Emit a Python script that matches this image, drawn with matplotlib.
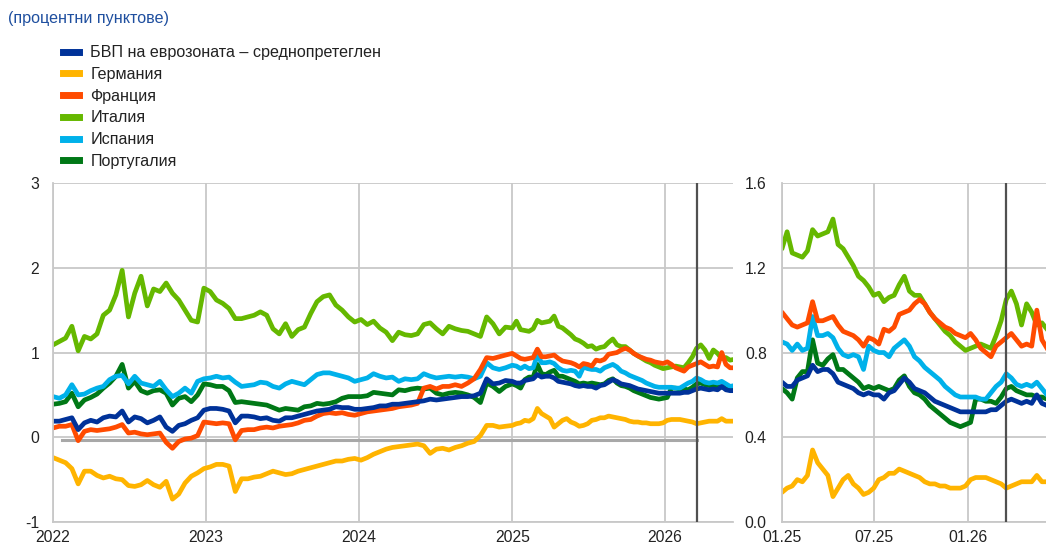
import pandas as pd
import matplotlib.pyplot as plt
from matplotlib.lines import Line2D

plt.rcParams['font.family'] = ['Liberation Sans', 'DejaVu Sans']

# Sample dates: every 15 days for 2022-2024, every 10 days from 2025 on
dates = pd.date_range('2022-01-01', periods=73, freq='15D').append(
    pd.date_range('2025-01-01', periods=54, freq='10D'))

labels = ['БВП на еврозоната – среднопретеглен', 'Германия', 'Франция',
          'Италия', 'Испания', 'Португалия']
colors = ['#003299', '#ffb400', '#ff4b00', '#65b800', '#00b1ea', '#007816']

# Spreads vs. risk-free curve (percentage points)
euro_area = [0.19, 0.19, 0.21, 0.23, 0.09, 0.17, 0.20, 0.18, 0.23, 0.25, 0.24, 0.31, 0.18, 0.24, 0.22,
             0.17, 0.20, 0.24, 0.12, 0.07, 0.14, 0.16, 0.20, 0.23, 0.32,
             0.34, 0.34, 0.33, 0.31, 0.17, 0.25, 0.25, 0.24, 0.22, 0.23, 0.20, 0.19, 0.23, 0.23, 0.25,
             0.27, 0.29, 0.31, 0.32, 0.33, 0.36, 0.35, 0.35, 0.33,
             0.33, 0.34, 0.35, 0.37, 0.37, 0.39, 0.39, 0.40, 0.41, 0.42, 0.43, 0.45, 0.44, 0.45, 0.46,
             0.47, 0.48, 0.48, 0.49, 0.52, 0.69, 0.63, 0.64, 0.67,
             0.66, 0.64, 0.64, 0.67, 0.68, 0.69, 0.74, 0.71, 0.72, 0.72, 0.70, 0.66, 0.65, 0.64, 0.63,
             0.61, 0.60, 0.61, 0.60, 0.60, 0.58, 0.61, 0.62, 0.65, 0.68, 0.66, 0.63, 0.62, 0.61, 0.59,
             0.57, 0.56, 0.55, 0.54, 0.53, 0.52, 0.52, 0.52, 0.52, 0.52, 0.52, 0.53, 0.53, 0.55, 0.57,
             0.58, 0.57, 0.56, 0.57, 0.56, 0.60, 0.56, 0.55, 0.55]
germany = [-0.24, -0.27, -0.30, -0.37, -0.55, -0.40, -0.40, -0.45, -0.48, -0.46, -0.49, -0.50, -0.57,
           -0.58, -0.56, -0.51, -0.56, -0.59, -0.52, -0.73, -0.67, -0.54, -0.46, -0.42, -0.37,
           -0.35, -0.32, -0.32, -0.34, -0.64, -0.49, -0.49, -0.47, -0.46, -0.43, -0.40, -0.42, -0.44,
           -0.43, -0.40, -0.38, -0.36, -0.34, -0.32, -0.30, -0.28, -0.28, -0.26, -0.25,
           -0.27, -0.24, -0.20, -0.17, -0.14, -0.12, -0.11, -0.10, -0.09, -0.08, -0.10, -0.19, -0.14,
           -0.13, -0.15, -0.12, -0.10, -0.07, -0.05, 0.02, 0.14, 0.14, 0.12, 0.13,
           0.14, 0.16, 0.17, 0.20, 0.19, 0.22, 0.34, 0.28, 0.25, 0.22, 0.12, 0.16, 0.20, 0.22, 0.18,
           0.16, 0.13, 0.14, 0.16, 0.20, 0.21, 0.23, 0.23, 0.25, 0.24, 0.23, 0.22, 0.21, 0.19, 0.18,
           0.18, 0.17, 0.17, 0.16, 0.16, 0.16, 0.17, 0.20, 0.21, 0.21, 0.21, 0.20, 0.19, 0.18, 0.16,
           0.17, 0.18, 0.19, 0.19, 0.19, 0.22, 0.19, 0.19, 0.19]
france = [0.11, 0.13, 0.13, 0.15, -0.04, 0.07, 0.09, 0.08, 0.09, 0.10, 0.12, 0.15, 0.05, 0.06, 0.04,
          0.03, 0.04, 0.05, -0.06, -0.13, -0.05, -0.02, -0.01, 0.02, 0.18,
          0.17, 0.16, 0.17, 0.16, -0.03, 0.08, 0.09, 0.09, 0.11, 0.12, 0.11, 0.13, 0.14, 0.15, 0.17,
          0.20, 0.21, 0.25, 0.28, 0.29, 0.28, 0.29, 0.27, 0.26,
          0.28, 0.30, 0.31, 0.32, 0.33, 0.34, 0.36, 0.37, 0.38, 0.40, 0.58, 0.60, 0.57, 0.60, 0.60,
          0.62, 0.60, 0.64, 0.69, 0.80, 0.94, 0.93, 0.95, 0.97,
          0.99, 0.96, 0.93, 0.92, 0.93, 0.94, 1.04, 0.95, 0.95, 0.96, 0.97, 0.93, 0.90, 0.89, 0.88,
          0.86, 0.83, 0.87, 0.86, 0.84, 0.91, 0.90, 0.92, 0.98, 0.99, 1.00, 1.03, 1.05, 1.03, 0.99,
          0.96, 0.94, 0.92, 0.91, 0.89, 0.88, 0.87, 0.89, 0.86, 0.82, 0.80, 0.78, 0.83, 0.85, 0.87,
          0.89, 0.86, 0.83, 0.84, 0.83, 1.00, 0.86, 0.82, 0.82]
italy = [1.09, 1.13, 1.17, 1.31, 1.02, 1.19, 1.16, 1.22, 1.44, 1.50, 1.68, 1.97, 1.42, 1.70, 1.90,
         1.55, 1.75, 1.72, 1.82, 1.70, 1.62, 1.50, 1.38, 1.36, 1.76,
         1.72, 1.62, 1.58, 1.52, 1.40, 1.40, 1.42, 1.44, 1.48, 1.44, 1.28, 1.22, 1.34, 1.19, 1.27,
         1.30, 1.46, 1.60, 1.66, 1.68, 1.56, 1.50, 1.42, 1.36,
         1.39, 1.33, 1.37, 1.29, 1.24, 1.14, 1.24, 1.21, 1.20, 1.22, 1.33, 1.35, 1.28, 1.22, 1.31,
         1.28, 1.26, 1.25, 1.22, 1.19, 1.42, 1.34, 1.22, 1.30,
         1.29, 1.37, 1.27, 1.26, 1.25, 1.28, 1.38, 1.35, 1.36, 1.37, 1.43, 1.31, 1.29, 1.25, 1.21,
         1.16, 1.14, 1.11, 1.07, 1.08, 1.04, 1.06, 1.07, 1.12, 1.16, 1.09, 1.07, 1.07, 1.03, 0.99,
         0.96, 0.93, 0.90, 0.88, 0.85, 0.83, 0.81, 0.82, 0.83, 0.84, 0.83, 0.82, 0.88, 0.95, 1.05,
         1.09, 1.03, 0.93, 1.03, 0.99, 0.93, 0.94, 0.91, 0.92]
spain = [0.48, 0.46, 0.50, 0.62, 0.50, 0.51, 0.55, 0.58, 0.60, 0.68, 0.72, 0.73, 0.63, 0.72, 0.64,
         0.62, 0.60, 0.66, 0.56, 0.48, 0.52, 0.58, 0.52, 0.66, 0.69,
         0.70, 0.72, 0.70, 0.71, 0.65, 0.60, 0.61, 0.62, 0.65, 0.64, 0.60, 0.58, 0.63, 0.66, 0.64,
         0.62, 0.68, 0.74, 0.76, 0.76, 0.74, 0.72, 0.70, 0.66,
         0.68, 0.70, 0.75, 0.72, 0.70, 0.71, 0.66, 0.69, 0.68, 0.69, 0.75, 0.72, 0.70, 0.71, 0.72,
         0.71, 0.72, 0.71, 0.69, 0.72, 0.88, 0.82, 0.80, 0.82,
         0.85, 0.84, 0.81, 0.84, 0.81, 0.82, 0.97, 0.88, 0.88, 0.89, 0.87, 0.82, 0.79, 0.78, 0.79,
         0.78, 0.72, 0.83, 0.81, 0.80, 0.80, 0.78, 0.82, 0.84, 0.86, 0.83, 0.78, 0.76, 0.73, 0.71,
         0.69, 0.67, 0.64, 0.62, 0.60, 0.59, 0.59, 0.59, 0.59, 0.58, 0.58, 0.61, 0.64, 0.66, 0.70,
         0.68, 0.65, 0.64, 0.65, 0.64, 0.66, 0.63, 0.60, 0.61]
portugal = [0.39, 0.40, 0.42, 0.52, 0.36, 0.44, 0.47, 0.51, 0.58, 0.64, 0.72, 0.86, 0.58, 0.66, 0.55,
            0.52, 0.55, 0.56, 0.52, 0.38, 0.46, 0.48, 0.42, 0.50, 0.63,
            0.62, 0.60, 0.60, 0.55, 0.41, 0.42, 0.41, 0.40, 0.39, 0.38, 0.35, 0.32, 0.34, 0.33, 0.32,
            0.36, 0.37, 0.40, 0.39, 0.40, 0.42, 0.46, 0.48, 0.48,
            0.48, 0.49, 0.53, 0.52, 0.51, 0.50, 0.56, 0.55, 0.57, 0.58, 0.57, 0.58, 0.52, 0.50, 0.52,
            0.53, 0.52, 0.50, 0.47, 0.41, 0.64, 0.60, 0.54, 0.60,
            0.63, 0.61, 0.58, 0.68, 0.71, 0.71, 0.86, 0.75, 0.74, 0.77, 0.79, 0.72, 0.72, 0.70, 0.68,
            0.66, 0.63, 0.64, 0.63, 0.64, 0.63, 0.62, 0.63, 0.67, 0.69, 0.64, 0.61, 0.60, 0.58, 0.55,
            0.53, 0.51, 0.49, 0.47, 0.46, 0.45, 0.46, 0.47, 0.58, 0.58, 0.57, 0.57, 0.56, 0.59, 0.63,
            0.64, 0.62, 0.61, 0.60, 0.60, 0.59, 0.59, 0.58, 0.58]

series = [euro_area, germany, france, italy, spain, portugal]

cutoff = pd.Timestamp('2026-03-17')
grid_col = '#c8c8c8'
text_col = '#222222'

fig = plt.figure(figsize=(10.46, 5.51), dpi=100)
ax1 = fig.add_axes([0.0507, 0.0526, 0.6501, 0.6152])
ax2 = fig.add_axes([0.7476, 0.0526, 0.2524, 0.6152])

for ax in (ax1, ax2):
    # draw in reverse so the euro area line sits on top
    for vals, col in zip(series[::-1], colors[::-1]):
        ax.plot(dates, vals, color=col, lw=3.4, solid_joinstyle='round')
    ax.axvline(cutoff, color='#505050', lw=1.6, zorder=5)
    ax.grid(True, color=grid_col, lw=1.3)
    ax.set_axisbelow(True)
    for side in ('top', 'right'):
        ax.spines[side].set_visible(False)
    for side in ('left', 'bottom'):
        ax.spines[side].set_color(grid_col)
        ax.spines[side].set_linewidth(1.3)
    ax.tick_params(length=0, labelsize=11.3, colors=text_col)

# zero reference line in the long-run panel
ax1.plot([pd.Timestamp('2022-01-22'), cutoff], [-0.03, -0.03], color='#a8a8a8', lw=2.2, zorder=1)

ax1.set_xlim(pd.Timestamp('2022-01-01'), pd.Timestamp('2026-06-12'))
ax1.set_ylim(-1, 3)
ax1.set_yticks([-1, 0, 1, 2, 3])
ax1.set_yticklabels(['-1', '0', '1', '2', '3'])
ax1.set_xticks(pd.to_datetime(['2022-01-01', '2023-01-01', '2024-01-01', '2025-01-01', '2026-01-01']))
ax1.set_xticklabels(['2022', '2023', '2024', '2025', '2026'])
ax1.tick_params(axis='y', pad=10)
ax1.tick_params(axis='x', pad=6)

ax2.set_xlim(pd.Timestamp('2025-01-01'), pd.Timestamp('2026-06-03'))
ax2.set_ylim(0, 1.6)
ax2.set_yticks([0.0, 0.4, 0.8, 1.2, 1.6])
ax2.set_yticklabels(['0.0', '0.4', '0.8', '1.2', '1.6'])
ax2.set_xticks(pd.to_datetime(['2025-01-01', '2025-07-01', '2026-01-01']))
ax2.set_xticklabels(['01.25', '07.25', '01.26'])
ax2.tick_params(axis='y', pad=11)
ax2.tick_params(axis='x', pad=6)

fig.text(0.008, 0.967, '(процентни пунктове)', color='#1f4f9f', fontsize=11.6, va='center')

handles = [Line2D([0], [0], color=c, lw=5) for c in colors]
fig.legend(handles, labels, loc='upper left', bbox_to_anchor=(0.060, 0.918),
           frameon=False, fontsize=11.6, handlelength=1.0, handletextpad=0.72,
           labelspacing=0.42, borderpad=0, borderaxespad=0, labelcolor=text_col)

plt.savefig('out.png', dpi=100)
